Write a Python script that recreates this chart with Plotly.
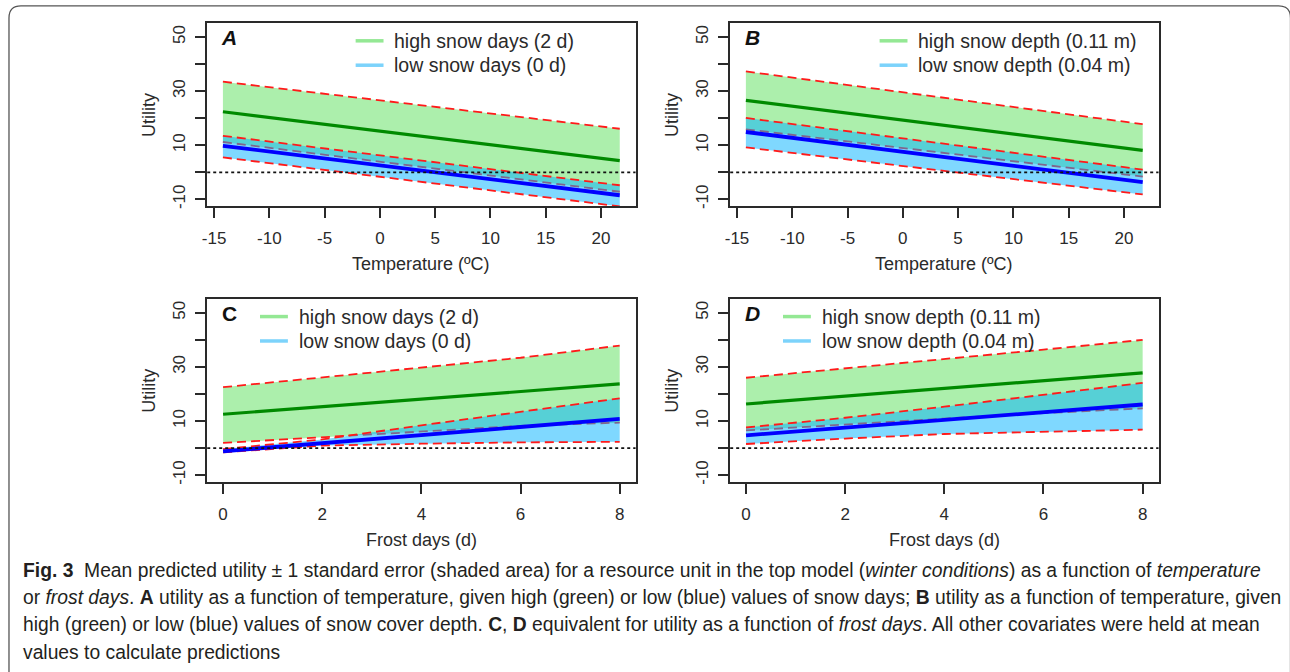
import plotly.graph_objects as go

# ---------------- data ----------------
TEMP = [-14.2, 21.7]
A_green_mean = [22.4, 4.3]
A_green_up = [33.5, 16.1]
A_green_lo = [11.2, -7.2]
A_blue_mean = [9.8, -8.5]
A_blue_up = [13.5, -4.8]
A_blue_lo = [5.5, -12.6]

B_green_mean = [26.6, 8.1]
B_green_up = [37.3, 17.8]
B_green_lo = [15.9, -1.6]
B_blue_mean = [14.9, -3.6]
B_blue_up = [20.1, 1.0]
B_blue_lo = [9.2, -8.2]

FROST = [0, 2, 4, 6, 8]
C_green_mean = [12.5, 15.3, 18.1, 20.9, 23.7]
C_green_up = [22.5, 26.1, 29.6, 33.4, 37.9]
C_green_lo = [1.9, 4.0, 6.2, 8.2, 9.4]
C_blue_mean = [-1.2, 1.8, 4.8, 7.8, 10.8]
C_blue_up = [-0.4, 3.2, 8.4, 13.3, 18.4]
C_blue_lo = [-1.6, 0.9, 1.6, 2.1, 2.3]

D_green_mean = [16.3, 19.2, 22.0, 24.9, 27.8]
D_green_up = [26.0, 29.4, 33.0, 36.4, 40.0]
D_green_lo = [6.5, 8.8, 10.9, 12.9, 14.7]
D_blue_mean = [4.7, 7.6, 10.4, 13.3, 16.1]
D_blue_up = [7.6, 11.2, 15.3, 19.7, 24.1]
D_blue_lo = [1.5, 3.5, 5.2, 5.9, 6.8]

TEMP_TICKS = [-15, -10, -5, 0, 5, 10, 15, 20]
FROST_TICKS = [0, 2, 4, 6, 8]
Y_TICKS = [-10, 0, 10, 20, 30, 40, 50]
Y_TICKTEXT = ["-10", "", "10", "", "30", "", "50"]

LEG_DAYS = ["high snow days (2 d)", "low snow days (0 d)"]
LEG_DEPTH = ["high snow depth (0.11 m)", "low snow depth (0.04 m)"]

# ---------------- styling ----------------
W, H = 1290, 672
FONT = "Liberation Sans, Arial, sans-serif"
GREEN_FILL = "#ACEFAC"
BLUE_FILL = "rgba(0,178,255,0.5)"
GREEN_LINE = "#008A00"
BLUE_LINE = "#0000FF"
RED = "#FF1A1A"
LEG_GREEN = "#94E894"
LEG_BLUE = "#7CD3FB"
AXC = "#2a2a2a"


def px(x):
    return x / W


def py(y):
    return 1 - y / H


panels = [
    dict(name="A", xs=TEMP, g=(A_green_mean, A_green_up, A_green_lo), b=(A_blue_mean, A_blue_up, A_blue_lo),
         box=(203, 633, 23, 207), xr=[-15.62, 23.13], ticks=TEMP_TICKS, xtitle="Temperature (ºC)",
         leg=LEG_DAYS, legx=352, letter_italic=True),
    dict(name="B", xs=TEMP, g=(B_green_mean, B_green_up, B_green_lo), b=(B_blue_mean, B_blue_up, B_blue_lo),
         box=(728, 1158, 23, 207), xr=[-15.62, 23.13], ticks=TEMP_TICKS, xtitle="Temperature (ºC)",
         leg=LEG_DEPTH, legx=878, letter_italic=True),
    dict(name="C", xs=FROST, g=(C_green_mean, C_green_up, C_green_lo), b=(C_blue_mean, C_blue_up, C_blue_lo),
         box=(203, 633, 300, 484), xr=[-0.32, 8.32], ticks=FROST_TICKS, xtitle="Frost days (d)",
         leg=LEG_DAYS, legx=256, letter_italic=False),
    dict(name="D", xs=FROST, g=(D_green_mean, D_green_up, D_green_lo), b=(D_blue_mean, D_blue_up, D_blue_lo),
         box=(728, 1158, 300, 484), xr=[-0.32, 8.32], ticks=FROST_TICKS, xtitle="Frost days (d)",
         leg=LEG_DEPTH, legx=781, letter_italic=True),
]

fig = go.Figure()
layout = dict(
    width=W, height=H, margin=dict(l=0, r=0, t=0, b=0),
    paper_bgcolor="white", plot_bgcolor="white", showlegend=False,
    font=dict(family=FONT, color=AXC),
)
shapes = []
annotations = []
dash = "9px,5px"

for i, p in enumerate(panels):
    k = "" if i == 0 else str(i + 1)
    xa, ya = "x" + k, "y" + k
    x0, x1, y0, y1 = p["box"]
    xs = p["xs"]
    gm, gu, gl = p["g"]
    bm, bu, bl = p["b"]
    # green band
    fig.add_trace(go.Scatter(x=xs + xs[::-1], y=gu + gl[::-1], fill="toself", fillcolor=GREEN_FILL,
                             line=dict(width=0), mode="lines", hoverinfo="skip", xaxis=xa, yaxis=ya))
    for arr in (gu, gl):
        fig.add_trace(go.Scatter(x=xs, y=arr, mode="lines", line=dict(color=RED, width=1.8, dash=dash),
                                 hoverinfo="skip", xaxis=xa, yaxis=ya))
    fig.add_trace(go.Scatter(x=xs, y=gm, mode="lines", line=dict(color=GREEN_LINE, width=3.2),
                             xaxis=xa, yaxis=ya))
    # blue band (translucent on top)
    fig.add_trace(go.Scatter(x=xs + xs[::-1], y=bu + bl[::-1], fill="toself", fillcolor=BLUE_FILL,
                             line=dict(width=0), mode="lines", hoverinfo="skip", xaxis=xa, yaxis=ya))
    for arr in (bu, bl):
        fig.add_trace(go.Scatter(x=xs, y=arr, mode="lines", line=dict(color=RED, width=1.8, dash=dash),
                                 hoverinfo="skip", xaxis=xa, yaxis=ya))
    fig.add_trace(go.Scatter(x=xs, y=bm, mode="lines", line=dict(color=BLUE_LINE, width=3.8),
                             xaxis=xa, yaxis=ya))

    layout["xaxis" + k] = dict(
        domain=[px(x0), px(x1)], range=p["xr"], anchor=ya, showgrid=False, zeroline=False,
        showline=True, mirror=True, linecolor=AXC, linewidth=1.5,
        ticks="outside", ticklen=10, tickwidth=1.5, tickcolor=AXC,
        tickvals=p["ticks"], ticktext=[str(t) for t in p["ticks"]],
        tickfont=dict(size=17, color=AXC), ticklabelstandoff=6,
    )
    layout["yaxis" + k] = dict(
        domain=[py(y1), py(y0)], range=[-12.5, 55.25], anchor=xa, showgrid=False, zeroline=False,
        showline=True, mirror=True, linecolor=AXC, linewidth=1.5,
        ticks="outside", ticklen=10, tickwidth=1.5, tickcolor=AXC,
        tickvals=Y_TICKS, ticktext=Y_TICKTEXT, tickangle=-90,
        tickfont=dict(size=17, color=AXC), ticklabelstandoff=4,
    )
    # zero dotted line
    shapes.append(dict(type="line", xref=xa + " domain", yref=ya, x0=0, x1=1, y0=0, y1=0,
                       line=dict(color="#111", width=1.8, dash="dot"), layer="above"))
    # legend
    lx = p["legx"]
    for j, (txt, col) in enumerate(zip(p["leg"], [LEG_GREEN, LEG_BLUE])):
        yy = y0 + 18 + j * 24.5
        shapes.append(dict(type="line", xref="paper", yref="paper", x0=px(lx), x1=px(lx + 28),
                           y0=py(yy), y1=py(yy), line=dict(color=col, width=3.5)))
        annotations.append(dict(x=px(lx + 37), y=py(yy), xref="paper", yref="paper", text=txt,
                                showarrow=False, xanchor="left", yanchor="middle",
                                font=dict(size=19.5, color=AXC)))
    # panel letter
    letter = f"<b><i>{p['name']}</i></b>" if p["letter_italic"] else f"<b>{p['name']}</b>"
    annotations.append(dict(x=px(x0 + 22), y=py(y0 + 15), xref="paper", yref="paper", text=letter,
                            showarrow=False, xanchor="center", yanchor="middle",
                            font=dict(size=21, color="#111")))
    # axis titles
    annotations.append(dict(x=px((x0 + x1) / 2), y=py(y1 + 58), xref="paper", yref="paper",
                            text=p["xtitle"], showarrow=False, xanchor="center", yanchor="middle",
                            font=dict(size=18, color=AXC)))
    annotations.append(dict(x=px(x0 - 58), y=py((y0 + y1) / 2), xref="paper", yref="paper",
                            text="Utility", textangle=-90, showarrow=False, xanchor="center",
                            yanchor="middle", font=dict(size=18, color=AXC)))

# caption
CAP = "Liberation Sans Narrow, Arial Narrow, Liberation Sans, sans-serif"
cap_lines = [
    "<b>Fig. 3</b>  Mean predicted utility ± 1 standard error (shaded area) for a resource unit in the top model (<i>winter conditions</i>) as a function of <i>temperature</i>",
    "or <i>frost days</i>. <b>A</b> utility as a function of temperature, given high (green) or low (blue) values of snow days; <b>B</b> utility as a function of temperature, given",
    "high (green) or low (blue) values of snow cover depth. <b>C</b>, <b>D</b> equivalent for utility as a function of <i>frost days</i>. All other covariates were held at mean",
    "values to calculate predictions",
]
for j, t in enumerate(cap_lines):
    annotations.append(dict(x=px(16), y=py(573 + j * 27.4), xref="paper", yref="paper", text=t,
                            showarrow=False, xanchor="left", yanchor="middle",
                            font=dict(family=CAP, size=19.3, color="#231F20")))

# rounded border
bx0, bx1, bt = px(4), px(1290.5), py(6)
rx, ry = 12 / W, 12 / H
shapes.append(dict(type="path", xref="paper", yref="paper",
                   path=f"M {bx0},-0.05 L {bx0},{bt - ry} Q {bx0},{bt} {bx0 + rx},{bt} "
                        f"L {bx1 - rx},{bt} Q {bx1},{bt} {bx1},{bt - ry} L {bx1},-0.05",
                   line=dict(color="#555", width=1.3)))

layout["shapes"] = shapes
layout["annotations"] = annotations
fig.update_layout(**layout)
fig.write_html("out.html")
